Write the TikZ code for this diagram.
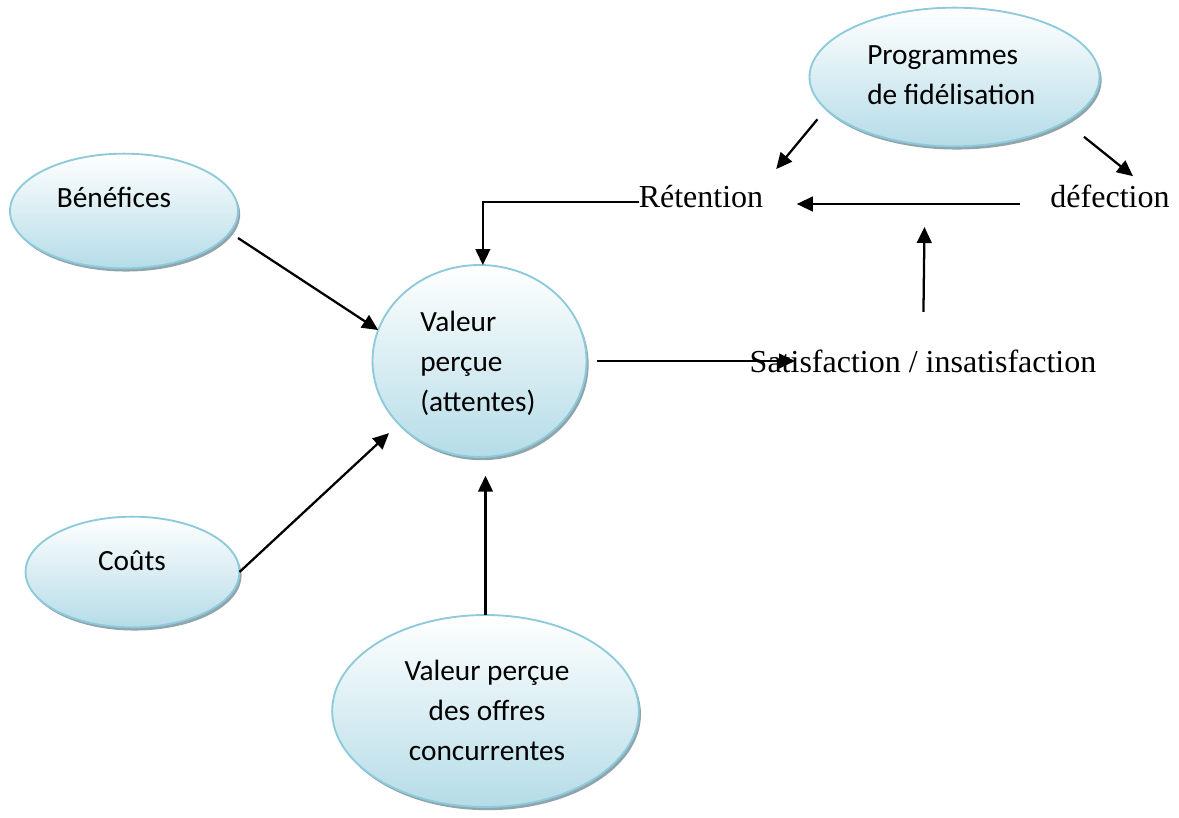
\documentclass[tikz,border=0pt]{standalone}
\usepackage{fontspec}
\setmainfont{Liberation Serif}
\newfontfamily\calibri{Carlito}
\usetikzlibrary{shapes.geometric,arrows.meta,shadows,calc}
\definecolor{bord}{HTML}{8DCADB}
\definecolor{fond}{HTML}{B5DCE7}
\definecolor{ombre}{HTML}{8A9FA8}

\tikzset{
  bulle/.style={ellipse, draw=bord, line width=1.4pt, top color=white,
    bottom color=fond, inner sep=0pt, outer sep=0pt,
    drop shadow={shadow xshift=1.6pt, shadow yshift=-2.4pt, fill=ombre, opacity=0.95}},
  cal/.style={font=\calibri\fontsize{22}{30}\selectfont, inner sep=0pt},
  tms/.style={font=\fontsize{24}{28}\selectfont, inner sep=0pt},
  fleche/.style={line width=1.7pt, -{Triangle[length=12pt,width=11pt]}},
}

\begin{document}
\begin{tikzpicture}[x=0.75pt, y=-0.75pt]
  \useasboundingbox (0,0) rectangle (1179,818);

  % ellipses
  \node[bulle, minimum width=171pt,   minimum height=86pt]  (ben)  at (124,211)   {};
  \node[bulle, minimum width=160.5pt, minimum height=144pt] (val)  at (479.5,361) {};
  \node[bulle, minimum width=160.5pt, minimum height=83pt]  (cou)  at (132.5,572) {};
  \node[bulle, minimum width=230pt,   minimum height=144pt] (off)  at (485.5,711) {};
  \node[bulle, minimum width=217.5pt, minimum height=104pt] (prog) at (954.5,77)  {};

  % texts inside the ellipses
  \node[cal, anchor=base] (tben) at (114,207) {Bénéfices};
  \node[cal, anchor=base] (tcou) at (132,570) {Coûts};
  \node[cal, anchor=west, align=left] (tval) at (420,363) {Valeur\\perçue\\(attentes)};
  \node[cal, anchor=center, align=center] (toff) at (487,710) {Valeur perçue\\des offres\\concurrentes};
  \node[cal, anchor=west, align=left] (tprog) at (867,75) {Programmes\\de fidélisation};

  % free texts
  \node[tms, anchor=base] (tret) at (701,207) {Rétention};
  \node[tms, anchor=base] (tdef) at (1110,207) {défection};
  \node[tms, anchor=base] (tsat) at (923,372) {Satisfaction / insatisfaction};

  \coordinate (haut) at (924.5,227);
  \coordinate (satin) at (795,363);

  % connectors
  \draw[fleche] ($(ben.east)+(0,27)$) -- (val.163);
  \draw[fleche, shorten >=10pt] (cou.east) -- (val.-142);
  \draw[fleche, shorten >=14pt] (off.north) -- (off.north |- val.south);
  \draw[fleche, shorten <=8pt] (val.east) -- (val.east -| satin);
  \draw[fleche, shorten <=28pt] (tsat.north) -- (haut);
  \draw[fleche, shorten <=23pt, shorten >=25pt]
    ($(tdef.base west)+(0,-3)$) -- ($(tret.base east)+(0,-3)$);
  \draw[fleche] ($(tret.base west)+(0,-5)$) -| (val.88);
  \draw[fleche, shorten <=10pt, shorten >=15pt] (prog.-166) -- (tret.north east);
  \draw[fleche, shorten <=18pt, shorten >=9.6pt] (prog.-22) -- ([xshift=24.75pt]tdef.north);
\end{tikzpicture}
\end{document}
